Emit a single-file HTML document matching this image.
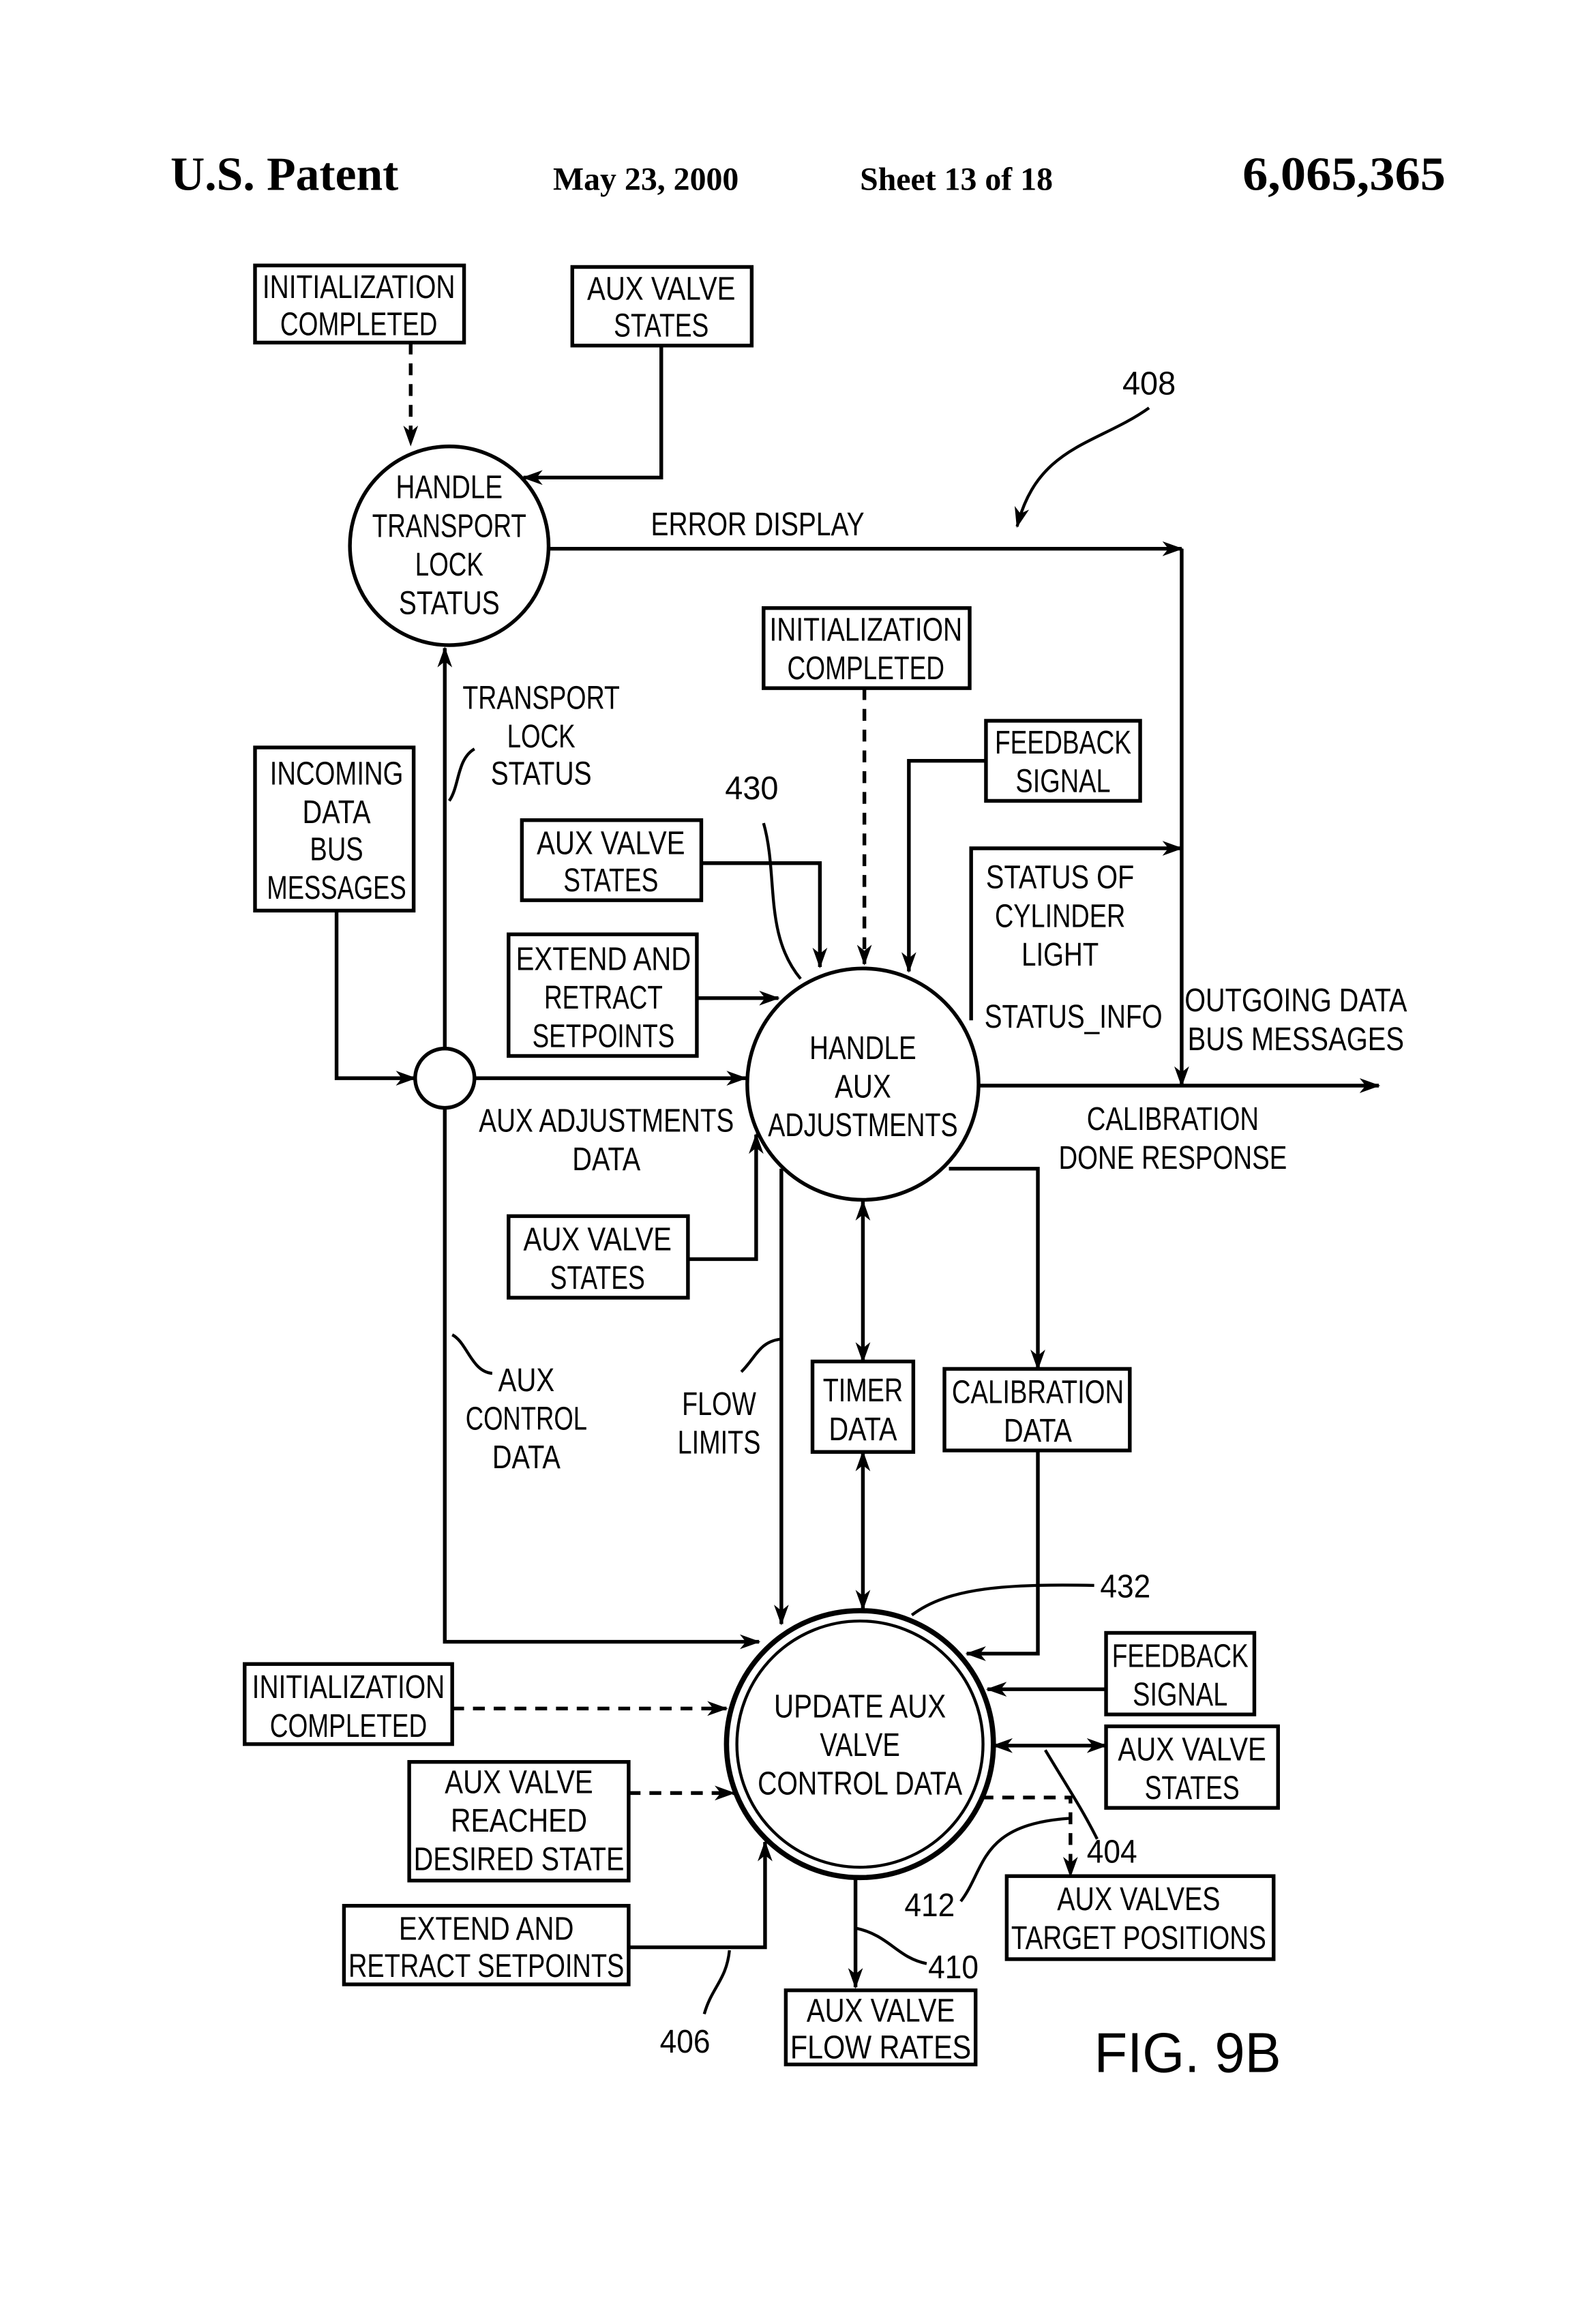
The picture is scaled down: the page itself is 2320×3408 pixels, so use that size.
<!DOCTYPE html>
<html><head><meta charset="utf-8"><style>
html,body{margin:0;padding:0;background:#fff}
svg{display:block}
text{font-family:"Liberation Sans",sans-serif;fill:#000}
.t{font-size:22px;text-anchor:middle}
</style></head><body>
<svg width="2320" height="3408" viewBox="0 0 1067 1567" preserveAspectRatio="none" xmlns="http://www.w3.org/2000/svg">
<defs>
<marker id="a" viewBox="0 0 14 10" refX="13" refY="5" markerWidth="14" markerHeight="10" markerUnits="userSpaceOnUse" orient="auto-start-reverse"><path d="M0,0 L14,5 L0,10 L4,5 Z" fill="#000"/></marker>
</defs>
<g font-family="Liberation Serif" font-weight="bold">
<text x="115" y="128" font-size="32" style="font-family:'Liberation Serif',serif">U.S. Patent</text>
<text x="373" y="128" font-size="22" style="font-family:'Liberation Serif',serif">May 23, 2000</text>
<text x="580" y="128" font-size="22" style="font-family:'Liberation Serif',serif">Sheet 13 of 18</text>
<text x="838" y="128" font-size="32" style="font-family:'Liberation Serif',serif" textLength="137" lengthAdjust="spacingAndGlyphs">6,065,365</text>
</g>
<g fill="none" stroke="#000" stroke-width="2.5">
<rect x="172" y="179" width="141" height="52"/>
<rect x="386" y="180" width="121" height="53"/>
<rect x="515" y="410" width="139" height="54"/>
<rect x="665" y="486" width="104" height="54"/>
<rect x="352" y="553" width="121" height="54"/>
<rect x="343" y="630" width="127" height="82"/>
<rect x="172" y="504" width="107" height="110"/>
<rect x="343" y="820" width="121" height="55"/>
<rect x="548" y="918" width="68" height="61"/>
<rect x="637" y="923" width="125" height="55"/>
<rect x="165" y="1122" width="140" height="54"/>
<rect x="276" y="1188" width="148" height="80"/>
<rect x="232" y="1285" width="192" height="53"/>
<rect x="746" y="1101" width="100" height="55"/>
<rect x="746" y="1164" width="116" height="55"/>
<rect x="679" y="1265" width="180" height="56"/>
<rect x="530" y="1342" width="128" height="50"/>
<circle cx="303" cy="368" r="67"/>
<circle cx="582" cy="731" r="78"/>
<circle cx="300" cy="727" r="20"/>
<circle cx="580" cy="1176" r="90" stroke-width="3.5"/>
<circle cx="580" cy="1176" r="83" stroke-width="2"/>
<path d="M277,231 V300" stroke-dasharray="8,6" marker-end="url(#a)"/>
<path d="M446,233 V322 H353" marker-end="url(#a)"/>
<path d="M370,370 H797" marker-end="url(#a)"/>
<path d="M797,370 V732" marker-end="url(#a)"/>
<path d="M660,732 H930" marker-end="url(#a)"/>
<path d="M655,688 V572 H797" marker-end="url(#a)"/>
<path d="M583,464 V650" stroke-dasharray="8,6" marker-end="url(#a)"/>
<path d="M665,513 H613 V655" marker-end="url(#a)"/>
<path d="M473,582 H553 V652" marker-end="url(#a)"/>
<path d="M470,673 H525" marker-end="url(#a)"/>
<path d="M227,614 V727 H280" marker-end="url(#a)"/>
<path d="M320,727 H503" marker-end="url(#a)"/>
<path d="M300,707 V437" marker-end="url(#a)"/>
<path d="M300,747 V1107 H512" marker-end="url(#a)"/>
<path d="M464,849 H510 V765" marker-end="url(#a)"/>
<path d="M527,788 V1095" marker-end="url(#a)"/>
<path d="M582,810 V918" marker-start="url(#a)" marker-end="url(#a)"/>
<path d="M582,979 V1085" marker-start="url(#a)" marker-end="url(#a)"/>
<path d="M640,788 H700 V923" marker-end="url(#a)"/>
<path d="M700,978 V1115 H652" marker-end="url(#a)"/>
<path d="M305,1152 H490" stroke-dasharray="8,6" marker-end="url(#a)"/>
<path d="M424,1209 H495" stroke-dasharray="8,6" marker-end="url(#a)"/>
<path d="M424,1313 H516 V1242" marker-end="url(#a)"/>
<path d="M746,1139 H666" marker-end="url(#a)"/>
<path d="M670,1177 H746" marker-start="url(#a)" marker-end="url(#a)"/>
<path d="M662,1212 H722 V1265" stroke-dasharray="8,6" marker-end="url(#a)"/>
<path d="M577,1266 V1340" marker-end="url(#a)"/>
<path d="M775,275 C740,300 700,300 686,355" stroke-width="2" marker-end="url(#a)"/>
<path d="M515,555 C525,590 515,630 540,660" stroke-width="2"/>
<path d="M320,505 C308,512 310,530 303,540" stroke-width="2"/>
<path d="M305,900 C315,905 318,925 332,926" stroke-width="2"/>
<path d="M500,925 C510,915 512,905 526,903" stroke-width="2"/>
<path d="M738,1069 C680,1068 640,1070 615,1089" stroke-width="2"/>
<path d="M475,1358 C480,1340 490,1335 492,1315" stroke-width="2"/>
<path d="M740,1240 C730,1220 720,1205 705,1180" stroke-width="2"/>
<path d="M648,1282 C665,1260 660,1230 722,1226" stroke-width="2"/>
<path d="M577,1300 C600,1305 605,1320 625,1324" stroke-width="2"/>
</g>
<g class="t">
<text x="242" y="201" textLength="130" lengthAdjust="spacingAndGlyphs">INITIALIZATION</text>
<text x="242" y="226" textLength="106" lengthAdjust="spacingAndGlyphs">COMPLETED</text>
<text x="446" y="202" textLength="100" lengthAdjust="spacingAndGlyphs">AUX VALVE</text>
<text x="446" y="227" textLength="64" lengthAdjust="spacingAndGlyphs">STATES</text>
<text x="303" y="336" textLength="72" lengthAdjust="spacingAndGlyphs">HANDLE</text>
<text x="303" y="362" textLength="104" lengthAdjust="spacingAndGlyphs">TRANSPORT</text>
<text x="303" y="388" textLength="46" lengthAdjust="spacingAndGlyphs">LOCK</text>
<text x="303" y="414" textLength="68" lengthAdjust="spacingAndGlyphs">STATUS</text>
<text x="511" y="361" textLength="144" lengthAdjust="spacingAndGlyphs">ERROR  DISPLAY</text>
<text x="775" y="266" textLength="36" lengthAdjust="spacingAndGlyphs">408</text>
<text x="584" y="432" textLength="130" lengthAdjust="spacingAndGlyphs">INITIALIZATION</text>
<text x="584" y="458" textLength="106" lengthAdjust="spacingAndGlyphs">COMPLETED</text>
<text x="717" y="508" textLength="92" lengthAdjust="spacingAndGlyphs">FEEDBACK</text>
<text x="717" y="534" textLength="64" lengthAdjust="spacingAndGlyphs">SIGNAL</text>
<text x="507" y="539" textLength="36" lengthAdjust="spacingAndGlyphs">430</text>
<text x="412" y="576" textLength="100" lengthAdjust="spacingAndGlyphs">AUX VALVE</text>
<text x="412" y="601" textLength="64" lengthAdjust="spacingAndGlyphs">STATES</text>
<text x="407" y="654" textLength="118" lengthAdjust="spacingAndGlyphs">EXTEND  AND</text>
<text x="407" y="680" textLength="80" lengthAdjust="spacingAndGlyphs">RETRACT</text>
<text x="407" y="706" textLength="96" lengthAdjust="spacingAndGlyphs">SETPOINTS</text>
<text x="227" y="529" textLength="90" lengthAdjust="spacingAndGlyphs">INCOMING</text>
<text x="227" y="555" textLength="46" lengthAdjust="spacingAndGlyphs">DATA</text>
<text x="227" y="580" textLength="36" lengthAdjust="spacingAndGlyphs">BUS</text>
<text x="227" y="606" textLength="94" lengthAdjust="spacingAndGlyphs">MESSAGES</text>
<text x="365" y="478" textLength="106" lengthAdjust="spacingAndGlyphs">TRANSPORT</text>
<text x="365" y="504" textLength="46" lengthAdjust="spacingAndGlyphs">LOCK</text>
<text x="365" y="529" textLength="68" lengthAdjust="spacingAndGlyphs">STATUS</text>
<text x="582" y="714" textLength="72" lengthAdjust="spacingAndGlyphs">HANDLE</text>
<text x="582" y="740" textLength="38" lengthAdjust="spacingAndGlyphs">AUX</text>
<text x="582" y="766" textLength="128" lengthAdjust="spacingAndGlyphs">ADJUSTMENTS</text>
<text x="715" y="599" textLength="100" lengthAdjust="spacingAndGlyphs">STATUS  OF</text>
<text x="715" y="625" textLength="88" lengthAdjust="spacingAndGlyphs">CYLINDER</text>
<text x="715" y="651" textLength="52" lengthAdjust="spacingAndGlyphs">LIGHT</text>
<text x="724" y="693" textLength="120" lengthAdjust="spacingAndGlyphs">STATUS_INFO</text>
<text x="874" y="682" textLength="150" lengthAdjust="spacingAndGlyphs">OUTGOING  DATA</text>
<text x="874" y="708" textLength="146" lengthAdjust="spacingAndGlyphs">BUS  MESSAGES</text>
<text x="791" y="762" textLength="116" lengthAdjust="spacingAndGlyphs">CALIBRATION</text>
<text x="791" y="788" textLength="154" lengthAdjust="spacingAndGlyphs">DONE  RESPONSE</text>
<text x="409" y="763" textLength="172" lengthAdjust="spacingAndGlyphs">AUX  ADJUSTMENTS</text>
<text x="409" y="789" textLength="46" lengthAdjust="spacingAndGlyphs">DATA</text>
<text x="403" y="843" textLength="100" lengthAdjust="spacingAndGlyphs">AUX VALVE</text>
<text x="403" y="869" textLength="64" lengthAdjust="spacingAndGlyphs">STATES</text>
<text x="355" y="938" textLength="38" lengthAdjust="spacingAndGlyphs">AUX</text>
<text x="355" y="964" textLength="82" lengthAdjust="spacingAndGlyphs">CONTROL</text>
<text x="355" y="990" textLength="46" lengthAdjust="spacingAndGlyphs">DATA</text>
<text x="485" y="954" textLength="50" lengthAdjust="spacingAndGlyphs">FLOW</text>
<text x="485" y="980" textLength="56" lengthAdjust="spacingAndGlyphs">LIMITS</text>
<text x="582" y="945" textLength="54" lengthAdjust="spacingAndGlyphs">TIMER</text>
<text x="582" y="971" textLength="46" lengthAdjust="spacingAndGlyphs">DATA</text>
<text x="700" y="946" textLength="116" lengthAdjust="spacingAndGlyphs">CALIBRATION</text>
<text x="700" y="972" textLength="46" lengthAdjust="spacingAndGlyphs">DATA</text>
<text x="759" y="1077" textLength="34" lengthAdjust="spacingAndGlyphs">432</text>
<text x="580" y="1158" textLength="116" lengthAdjust="spacingAndGlyphs">UPDATE  AUX</text>
<text x="580" y="1184" textLength="54" lengthAdjust="spacingAndGlyphs">VALVE</text>
<text x="580" y="1210" textLength="138" lengthAdjust="spacingAndGlyphs">CONTROL  DATA</text>
<text x="235" y="1145" textLength="130" lengthAdjust="spacingAndGlyphs">INITIALIZATION</text>
<text x="235" y="1171" textLength="106" lengthAdjust="spacingAndGlyphs">COMPLETED</text>
<text x="350" y="1209" textLength="100" lengthAdjust="spacingAndGlyphs">AUX VALVE</text>
<text x="350" y="1235" textLength="92" lengthAdjust="spacingAndGlyphs">REACHED</text>
<text x="350" y="1261" textLength="142" lengthAdjust="spacingAndGlyphs">DESIRED  STATE</text>
<text x="328" y="1308" textLength="118" lengthAdjust="spacingAndGlyphs">EXTEND  AND</text>
<text x="328" y="1333" textLength="186" lengthAdjust="spacingAndGlyphs">RETRACT  SETPOINTS</text>
<text x="462" y="1384" textLength="34" lengthAdjust="spacingAndGlyphs">406</text>
<text x="796" y="1124" textLength="92" lengthAdjust="spacingAndGlyphs">FEEDBACK</text>
<text x="796" y="1150" textLength="64" lengthAdjust="spacingAndGlyphs">SIGNAL</text>
<text x="804" y="1187" textLength="100" lengthAdjust="spacingAndGlyphs">AUX VALVE</text>
<text x="804" y="1213" textLength="64" lengthAdjust="spacingAndGlyphs">STATES</text>
<text x="750" y="1256" textLength="34" lengthAdjust="spacingAndGlyphs">404</text>
<text x="627" y="1292" textLength="34" lengthAdjust="spacingAndGlyphs">412</text>
<text x="643" y="1334" textLength="34" lengthAdjust="spacingAndGlyphs">410</text>
<text x="768" y="1288" textLength="110" lengthAdjust="spacingAndGlyphs">AUX VALVES</text>
<text x="768" y="1314" textLength="172" lengthAdjust="spacingAndGlyphs">TARGET  POSITIONS</text>
<text x="594" y="1363" textLength="100" lengthAdjust="spacingAndGlyphs">AUX VALVE</text>
<text x="594" y="1388" textLength="122" lengthAdjust="spacingAndGlyphs">FLOW   RATES</text>
<text x="801" y="1397" style="font-size:38px" textLength="126" lengthAdjust="spacingAndGlyphs">FIG.  9B</text>
</g>
</svg>
</body></html>
